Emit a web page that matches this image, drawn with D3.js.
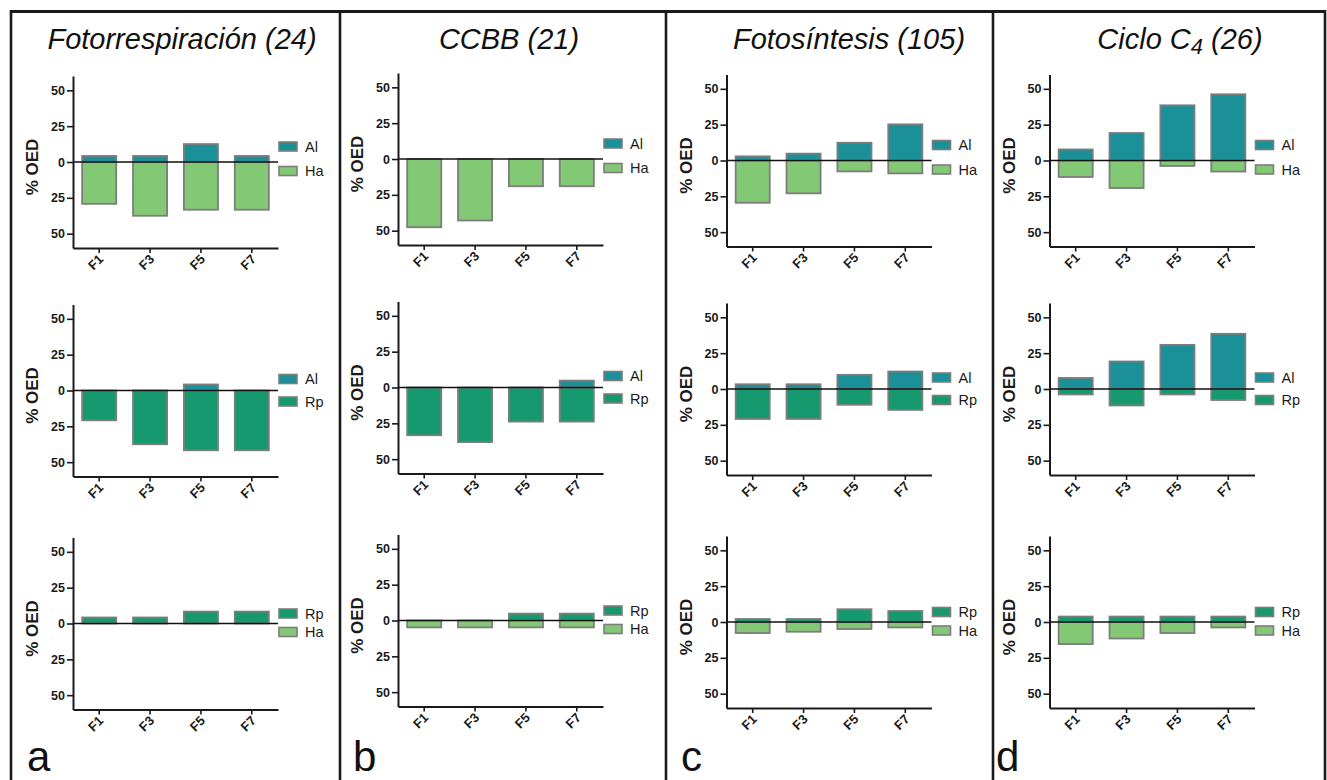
<!DOCTYPE html>
<html lang="es">
<head>
<meta charset="UTF-8">
<title>% OED por grupo funcional</title>
<script src="https://d3js.org/d3.v7.min.js"></script>
<style>
  body { margin: 0; background: #fff; }
  svg { display: block; font-family: "Liberation Sans", Arial, sans-serif; }
</style>
</head>
<body>
<svg id="chart" width="1327" height="780"></svg>
<script>
// categories on the x axis
var cats = ["F1", "F3", "F5", "F7"];
// column titles (a, b, c, d)
var titles = ["Fotorrespiración (24)", "CCBB (21)", "Fotosíntesis (105)", "Ciclo C"];
var titleSuffix = ["", "", "", " (26)"];
var panelLetters = ["a", "b", "c", "d"];
// which pair is compared in each row: [upward series, downward series]
var rowSeries = [["Al", "Ha"], ["Al", "Rp"], ["Rp", "Ha"]];
var yTicks = [-50, -25, 0, 25, 50];

// row 1: Al (up) vs Ha (down), one array per column a..d
var row1Up   = [[4.2, 4.2, 12.5, 4.2], [0, 0, 0, 0], [2.9, 4.8, 12.4, 25.2], [7.7, 19.2, 38.5, 46.2]];
var row1Down = [[29.2, 37.5, 33.3, 33.3], [47.6, 42.9, 19.0, 19.0], [29.5, 22.9, 7.6, 9.0], [11.5, 19.2, 3.8, 7.7]];
// row 2: Al (up) vs Rp (down)
var row2Up   = [[0, 0, 4.2, 0], [0, 0, 0, 4.8], [3.3, 3.3, 9.9, 12.2], [7.7, 19.2, 30.8, 38.5]];
var row2Down = [[20.8, 37.5, 41.7, 41.7], [33.3, 38.1, 23.8, 23.8], [20.9, 20.9, 11.0, 14.6], [3.8, 11.5, 3.8, 7.7]];
// row 3: Rp (up) vs Ha (down)
var row3Up   = [[4.2, 4.2, 8.3, 8.3], [0, 0, 4.8, 4.8], [2.1, 2.1, 8.9, 7.7], [3.8, 3.8, 3.8, 3.8]];
var row3Down = [[0, 0, 0, 0], [4.8, 4.8, 4.8, 4.8], [7.7, 6.8, 4.9, 3.8], [15.4, 11.5, 7.7, 3.8]];

var upRows = [row1Up, row2Up, row3Up];
var downRows = [row1Down, row2Down, row3Down];

var colors = {Al: "#1b9098", Ha: "#83c875", Rp: "#17996f"};

// layout
var colX = [73, 398, 726.5, 1049.5];      // y-axis position of each column
var colDy = [1.5, -1.5, 0, 0];
var rowZero = [160.5, 389, 622];          // y of the zero line per row
var legendOff = [[-15.5, 9], [-11.5, 11], [-10, 8.5]];
var titleX = [182, 509, 849, 1180];
var letterX = [27, 353, 681, 996];
var plotW = 205, half = 86;

var svg = d3.select("#chart");

// frame
var frame = svg.append("g").attr("stroke", "#1a1a1a").attr("fill", "none");
frame.append("line").attr("x1", 10).attr("x2", 1326).attr("y1", 11.5).attr("y2", 11.5).attr("stroke-width", 3);
[11, 340, 666, 993, 1325].forEach(function(x) {
    frame.append("line").attr("x1", x).attr("x2", x).attr("y1", 10).attr("y2", 780).attr("stroke-width", 2.6);
});

// titles
titles.forEach(function(t, c) {
    var tx = svg.append("text")
        .attr("x", titleX[c]).attr("y", 49)
        .attr("text-anchor", "middle")
        .attr("font-size", 29).attr("font-style", "italic").attr("fill", "#111")
        .text(t);
    if (c === 3) {
        tx.append("tspan").attr("font-size", 22).attr("dy", 5).text("4");
        tx.append("tspan").attr("dy", -5).text(titleSuffix[c]);
    }
});

// panel letters
panelLetters.forEach(function(l, c) {
    svg.append("text").attr("x", letterX[c]).attr("y", 771)
        .attr("font-size", 42).attr("fill", "#111").text(l);
});

function drawPanel(c, r) {
    var zero = rowZero[r] + colDy[c];
    var x0 = colX[c];
    var g = svg.append("g");

    var x = d3.scaleBand().domain(cats).range([x0, x0 + plotW]).paddingInner(0.33).paddingOuter(0.18);
    var y = d3.scaleLinear().domain([-60, 60]).range([zero + half, zero - half]);

    var upName = rowSeries[r][0], downName = rowSeries[r][1];
    var up = cats.map(function(k, i) { return {k: k, v: upRows[r][c][i]}; }).filter(function(d) { return d.v > 0; });
    var down = cats.map(function(k, i) { return {k: k, v: downRows[r][c][i]}; }).filter(function(d) { return d.v > 0; });

    g.selectAll("rect.up").data(up).enter().append("rect")
        .attr("class", "up")
        .attr("x", function(d) { return x(d.k); })
        .attr("width", x.bandwidth())
        .attr("y", function(d) { return y(d.v); })
        .attr("height", function(d) { return y(0) - y(d.v); })
        .attr("fill", colors[upName]).attr("stroke", "#7d7d7d").attr("stroke-width", 1.8);

    g.selectAll("rect.down").data(down).enter().append("rect")
        .attr("class", "down")
        .attr("x", function(d) { return x(d.k); })
        .attr("width", x.bandwidth())
        .attr("y", y(0))
        .attr("height", function(d) { return y(-d.v) - y(0); })
        .attr("fill", colors[downName]).attr("stroke", "#7d7d7d").attr("stroke-width", 1.8);

    // zero line
    g.append("line").attr("x1", x0).attr("x2", x0 + plotW)
        .attr("y1", y(0)).attr("y2", y(0))
        .attr("stroke", "#111").attr("stroke-width", 1.6);

    // y axis
    var yAxis = d3.axisLeft(y).tickValues(yTicks).tickSize(6).tickSizeOuter(0).tickPadding(2)
        .tickFormat(function(d) { return Math.abs(d); });
    var ya = g.append("g").attr("transform", "translate(" + x0 + ",0)").call(yAxis);
    ya.select(".domain").attr("stroke", "#1a1a1a").attr("stroke-width", 2);
    ya.selectAll(".tick line").attr("stroke", "#1a1a1a").attr("stroke-width", 1.6);
    ya.selectAll(".tick text").attr("font-size", 12.5).attr("font-weight", "bold")
        .attr("font-family", "Liberation Sans, Arial, sans-serif").attr("fill", "#1a1a1a");

    // x axis
    var xAxis = d3.axisBottom(x).tickSize(5).tickSizeOuter(0);
    var xa = g.append("g").attr("transform", "translate(0," + y(-60) + ")").call(xAxis);
    xa.select(".domain").attr("stroke", "#1a1a1a").attr("stroke-width", 2);
    xa.selectAll(".tick line").attr("stroke", "#1a1a1a").attr("stroke-width", 1.6);
    xa.selectAll(".tick text")
        .attr("font-size", 13).attr("font-weight", "bold")
        .attr("font-family", "Liberation Sans, Arial, sans-serif").attr("fill", "#1a1a1a")
        .attr("text-anchor", "end").attr("dy", null).attr("y", 0)
        .attr("transform", "translate(5,12) rotate(-45)");

    // y label
    g.append("text")
        .attr("transform", "translate(" + (x0 - 35) + "," + (zero + 5) + ") rotate(-90)")
        .attr("text-anchor", "middle")
        .attr("font-size", 17).attr("font-weight", "bold").attr("fill", "#1a1a1a")
        .text("% OED");

    // legend
    var lx = x0 + plotW + 1;
    [upName, downName].forEach(function(name, i) {
        var cy = zero + legendOff[r][i];
        g.append("rect").attr("x", lx).attr("y", cy - 4.5).attr("width", 18).attr("height", 9)
            .attr("fill", colors[name]).attr("stroke", "#7d7d7d").attr("stroke-width", 1.6);
        g.append("text").attr("x", lx + 26).attr("y", cy + 5)
            .attr("font-size", 14.5).attr("fill", "#1a1a1a").text(name);
    });
}

for (var r = 0; r < 3; r++) {
    for (var c = 0; c < 4; c++) {
        drawPanel(c, r);
    }
}
</script>
</body>
</html>
